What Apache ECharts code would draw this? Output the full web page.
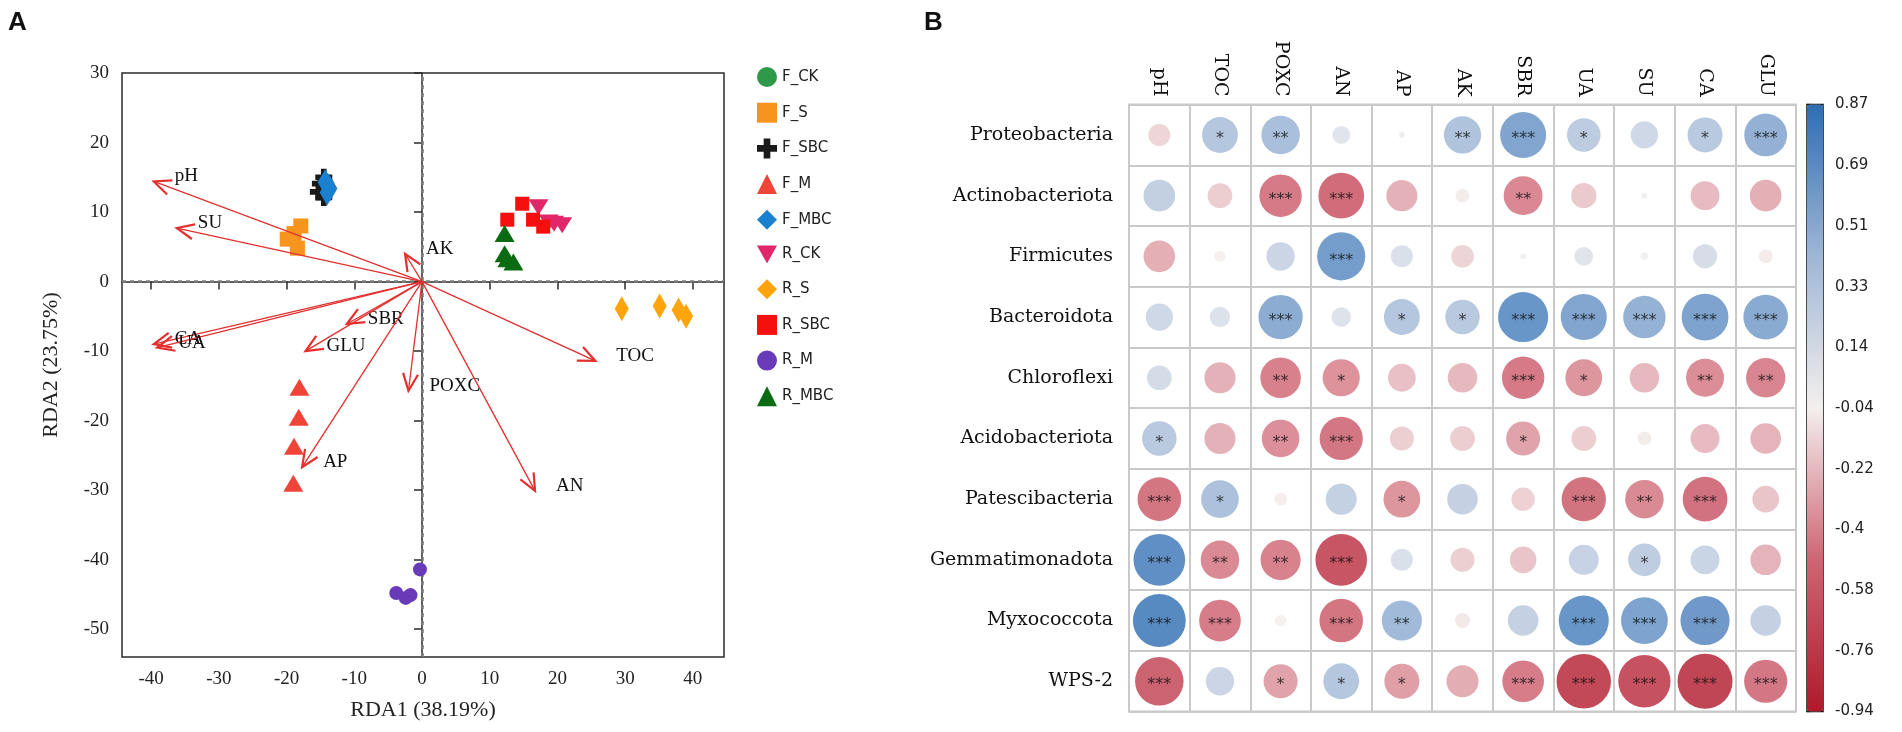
<!DOCTYPE html>
<html>
<head>
<meta charset="utf-8">
<script src="https://cdn.jsdelivr.net/npm/echarts@6.0.0/dist/echarts.min.js"></script>
<style>
html,body{margin:0;padding:0;background:#fff;}
#c{width:1902px;height:732px;}
</style>
</head>
<body>
<div id="c"></div>
<script>
// ---------- Panel A data ----------
const groups = ['F_CK','F_S','F_SBC','F_M','F_MBC','R_CK','R_S','R_SBC','R_M','R_MBC'];
const F_CK  = [[-14.1,13.8],[-13.9,13.4],[-14.2,13.2],[-14.0,14.0]];
const F_S   = [[-17.9,8.0],[-18.9,6.9],[-19.9,6.1],[-18.4,4.8]];
const F_SBC = [[-14.5,15.0],[-15.0,14.1],[-15.3,12.9],[-14.5,12.1]];
const F_M   = [[-18.1,-15.2],[-18.2,-19.5],[-18.9,-23.7],[-19.0,-29.0]];
const F_MBC = [[-14.3,14.3],[-13.6,13.4],[-14.0,12.8],[-13.9,13.8]];
const R_CK  = [[17.2,10.7],[18.7,8.5],[19.5,8.3],[20.7,8.1]];
const R_S   = [[29.5,-3.9],[35.1,-3.5],[37.9,-4.1],[39.0,-5.0]];
const R_SBC = [[14.8,11.2],[12.6,8.9],[16.4,8.9],[17.9,7.9]];
const R_M   = [[-0.3,-41.4],[-3.8,-44.8],[-2.4,-45.5],[-1.7,-45.1]];
const R_MBC = [[12.2,6.9],[12.2,4.0],[12.6,3.3],[13.5,2.8]];
const envNames = ['pH','SU','AK','CA','UA','SBR','GLU','AP','POXC','TOC','AN'];
const envX     = [-39.6,-36.2,-2.5,-39.6,-39.1,-11.1,-17.2,-17.7,-2.0,25.6,16.7];
const envY     = [14.4,7.7,4.0,-9.0,-9.5,-6.1,-10.0,-26.7,-15.7,-11.4,-30.1];
const xTicksA = [-40,-30,-20,-10,0,10,20,30,40];
const yTicksA = [-50,-40,-30,-20,-10,0,10,20,30];

// ---------- Panel B data ----------
const phyla = ['Proteobacteria','Actinobacteriota','Firmicutes','Bacteroidota','Chloroflexi','Acidobacteriota','Patescibacteria','Gemmatimonadota','Myxococcota','WPS-2'];
const factors = ['pH','TOC','POXC','AN','AP','AK','SBR','UA','SU','CA','GLU'];
const r_Proteobacteria   = [-0.15, 0.40, 0.46, 0.10, 0.01, 0.43, 0.66, 0.35, 0.23, 0.38, 0.57];
const r_Actinobacteriota = [0.31, -0.19, -0.56, -0.65, -0.30, -0.06, -0.47, -0.20, -0.01, -0.26, -0.31];
const r_Firmicutes       = [-0.31, -0.04, 0.25, 0.72, 0.15, -0.16, -0.01, 0.11, -0.02, 0.18, -0.06];
const r_Bacteroidota     = [0.23, 0.13, 0.61, 0.12, 0.40, 0.37, 0.78, 0.66, 0.56, 0.68, 0.62];
const r_Chloroflexi      = [0.19, -0.30, -0.51, -0.43, -0.24, -0.27, -0.56, -0.42, -0.27, -0.45, -0.48];
const r_Acidobacteriota  = [0.37, -0.30, -0.44, -0.58, -0.18, -0.19, -0.36, -0.19, -0.06, -0.26, -0.29];
const r_Patescibacteria  = [-0.59, 0.44, -0.05, 0.30, -0.42, 0.29, -0.17, -0.61, -0.46, -0.62, -0.22];
const r_Gemmatimonadota  = [0.83, -0.46, -0.50, -0.83, 0.15, -0.18, -0.22, 0.28, 0.33, 0.26, -0.29];
const r_Myxococcota      = [0.87, -0.54, -0.04, -0.59, 0.50, -0.07, 0.29, 0.78, 0.68, 0.75, 0.29];
const r_WPS2             = [-0.73, 0.25, -0.36, 0.40, -0.38, -0.32, -0.54, -0.92, -0.85, -0.94, -0.58];
const s_Proteobacteria   = ['','*','**','','','**','***','*','','*','***'];
const s_Actinobacteriota = ['','','***','***','','','**','','','',''];
const s_Firmicutes       = ['','','','***','','','','','','',''];
const s_Bacteroidota     = ['','','***','','*','*','***','***','***','***','***'];
const s_Chloroflexi      = ['','','**','*','','','***','*','','**','**'];
const s_Acidobacteriota  = ['*','','**','***','','','*','','','',''];
const s_Patescibacteria  = ['***','*','','','*','','','***','**','***',''];
const s_Gemmatimonadota  = ['***','**','**','***','','','','','*','',''];
const s_Myxococcota      = ['***','***','','***','**','','','***','***','***',''];
const s_WPS2             = ['***','','*','*','*','','***','***','***','***','***'];
const colorbarTicks = ['0.87','0.69','0.51','0.33','0.14','-0.04','-0.22','-0.4','-0.58','-0.76','-0.94'];
const rMin = -0.94, rMax = 0.87;

// ---------- build ----------
const groupData = [F_CK,F_S,F_SBC,F_M,F_MBC,R_CK,R_S,R_SBC,R_M,R_MBC];
const groupStyle = {
  F_CK:  {symbol:'circle', size:14, color:'#2e9a48'},
  F_S:   {symbol:'rect', size:15, color:'#f7941d'},
  F_SBC: {symbol:'path://M4,0 H8 V4 H12 V8 H8 V12 H4 V8 H0 V4 H4 Z', size:17, color:'#1a1a1a'},
  F_M:   {symbol:'triangle', size:[20,17], color:'#f04438'},
  F_MBC: {symbol:'diamond', size:[15,26], color:'#1a80d0'},
  R_CK:  {symbol:'path://M0,0 L10,0 L5,9 Z', size:[20,16], color:'#e1266a'},
  R_S:   {symbol:'diamond', size:[14,25], color:'#ffa40a'},
  R_SBC: {symbol:'rect', size:14, color:'#f50f0f'},
  R_M:   {symbol:'circle', size:14, color:'#6a3bb8'},
  R_MBC: {symbol:'triangle', size:[20,17], color:'#0b6b12'}
};
const rowsR = [r_Proteobacteria,r_Actinobacteriota,r_Firmicutes,r_Bacteroidota,r_Chloroflexi,r_Acidobacteriota,r_Patescibacteria,r_Gemmatimonadota,r_Myxococcota,r_WPS2];
const rowsS = [s_Proteobacteria,s_Actinobacteriota,s_Firmicutes,s_Bacteroidota,s_Chloroflexi,s_Acidobacteriota,s_Patescibacteria,s_Gemmatimonadota,s_Myxococcota,s_WPS2];
const heatData = [];
rowsR.forEach((row,i)=>row.forEach((v,j)=>heatData.push({value:[j,i,v], star: rowsS[i][j]})));

const red = '#e3302f';
const serif = '"Liberation Serif","DejaVu Serif",serif';
const bSerif = '"DejaVu Serif",serif';

const GA = {left:122, top:73, width:602, height:584};
const GB = {left:1129, top:104.6, width:667, height:607};

const series = [];
groups.forEach((g,k)=>{
  const st = groupStyle[g];
  series.push({
    name:g, type:'scatter', xAxisIndex:0, yAxisIndex:0,
    data: groupData[k], symbol: st.symbol, symbolSize: st.size,
    itemStyle:{color:st.color, opacity:1}, z:3,
    markLine: k===0 ? {
      silent:true, symbol:['none','none'], label:{show:false},
      lineStyle:{color:'#7a7a7a', type:[4,4], width:2.5},
      data:[{xAxis:0},{yAxis:0}], z:1
    } : undefined
  });
});
series.push({
  type:'custom', xAxisIndex:0, yAxisIndex:0, z:4,
  data: envX.map((x,i)=>[x, envY[i]]),
  renderItem:(params, api)=>{
    const i = params.dataIndex;
    const tip = api.coord([api.value(0), api.value(1)]);
    const o = api.coord([0,0]);
    const dx = o[0]-tip[0], dy = o[1]-tip[1];
    const len = Math.hypot(dx,dy); const ux = dx/len, uy = dy/len;
    const hl = 17, hw = 7.5;
    const b1 = [tip[0]+ux*hl - uy*hw, tip[1]+uy*hl + ux*hw];
    const b2 = [tip[0]+ux*hl + uy*hw, tip[1]+uy*hl - ux*hw];
    return {type:'group', children:[
      {type:'line', shape:{x1:o[0],y1:o[1],x2:tip[0],y2:tip[1]}, style:{stroke:red, lineWidth:1.3}},
      {type:'polyline', shape:{points:[b1,tip,b2]}, style:{stroke:red, lineWidth:2.2, fill:null}},
      {type:'text', x:tip[0]+21, y:tip[1]-5, style:{text:envNames[i], font:'19px "Liberation Serif"', fill:'#111', verticalAlign:'middle', align:'left'}}
    ]};
  }
});
series.push({
  type:'scatter', xAxisIndex:1, yAxisIndex:1, data: heatData,
  symbol:'circle',
  symbolSize:(v)=> 55*Math.sqrt(Math.abs(v[2])/0.94),
  label:{show:true, position:'inside', offset:[0,4],
    formatter:(p)=>p.data.star, color:'#111', fontSize:16, fontFamily:'DejaVu Sans'},
  z:3
});
const heatIndex = series.length-1;

const option = {
  backgroundColor:'#fff',
  animation:false,
  grid:[
    Object.assign({show:true, borderColor:'#2b2b2b', borderWidth:1.5, backgroundColor:'transparent'}, GA),
    Object.assign({show:true, borderColor:'#c9c9c9', borderWidth:2, backgroundColor:'transparent'}, GB),
    {left:1807, top:104.6, width:16, height:607, show:true, borderColor:'#111', borderWidth:1.5, backgroundColor:'transparent'}
  ],
  xAxis:[
    {type:'value', gridIndex:0, min:-44.3, max:44.6,
      axisLine:{lineStyle:{color:'#2b2b2b', width:1.5}},
      axisTick:{customValues:xTicksA, length:8, lineStyle:{color:'#2b2b2b', width:1.5}},
      axisLabel:{customValues:xTicksA, color:'#222', fontSize:19, fontFamily:serif, margin:13},
      splitLine:{show:false},
      name:'RDA1 (38.19%)', nameLocation:'middle', nameGap:42,
      nameTextStyle:{fontSize:22, fontFamily:serif, color:'#222'}},
    {type:'category', gridIndex:1, data:factors, position:'top', boundaryGap:true,
      axisLine:{show:false}, axisTick:{show:false},
      axisLabel:{rotate:90, fontSize:19, fontFamily:bSerif, color:'#111', margin:8},
      splitLine:{show:true, interval:0, lineStyle:{color:'#c9c9c9', width:2}}},
    {type:'value', gridIndex:2, show:false, min:0, max:1}
  ],
  yAxis:[
    {type:'value', gridIndex:0, min:-54, max:30,
      axisLine:{lineStyle:{color:'#2b2b2b', width:1.5}},
      axisTick:{customValues:yTicksA, length:8, lineStyle:{color:'#2b2b2b', width:1.5}},
      axisLabel:{customValues:yTicksA, color:'#222', fontSize:19, fontFamily:serif, margin:13},
      splitLine:{show:false},
      name:'RDA2 (23.75%)', nameLocation:'middle', nameGap:60,
      nameTextStyle:{fontSize:22, fontFamily:serif, color:'#222'}},
    {type:'category', gridIndex:1, data:phyla, inverse:true, boundaryGap:true,
      axisLine:{show:false}, axisTick:{show:false},
      axisLabel:{fontSize:19, fontFamily:bSerif, color:'#111', margin:16},
      splitLine:{show:true, interval:0, lineStyle:{color:'#c9c9c9', width:2}}},
    {type:'category', gridIndex:2, data:colorbarTicks, inverse:true, boundaryGap:false, position:'right',
      axisLine:{show:false},
      axisTick:{show:true, length:5, lineStyle:{color:'#111', width:1.2}},
      axisLabel:{fontSize:15, fontFamily:'DejaVu Sans', color:'#222', margin:12},
      splitLine:{show:false}}
  ],
  visualMap:{
    type:'continuous', seriesIndex:heatIndex, dimension:2,
    min:rMin, max:rMax, calculable:false, orient:'vertical',
    left:1807, top:104.6, itemWidth:16, itemHeight:607, padding:0,
    inRange:{color:['#b2182b','#cf6574','#f3efed','#9fb6d6','#2e6db3']},
    textStyle:{color:'transparent'}
  },
  legend:{
    data:groups, orient:'vertical', left:752, top:62,
    itemWidth:20, itemHeight:20, itemGap:15.7,
    textStyle:{fontSize:15, fontFamily:'DejaVu Sans', color:'#222'}
  },
  graphic:[
    {type:'text', left:8, top:10, style:{text:'A', font:'bold 26px "Liberation Sans"', fill:'#111'}},
    {type:'text', left:924, top:10, style:{text:'B', font:'bold 26px "Liberation Sans"', fill:'#111'}}
  ],
  series: series
};
const chart = echarts.init(document.getElementById('c'), null, {renderer:'canvas'});
chart.setOption(option);
</script>
</body>
</html>
